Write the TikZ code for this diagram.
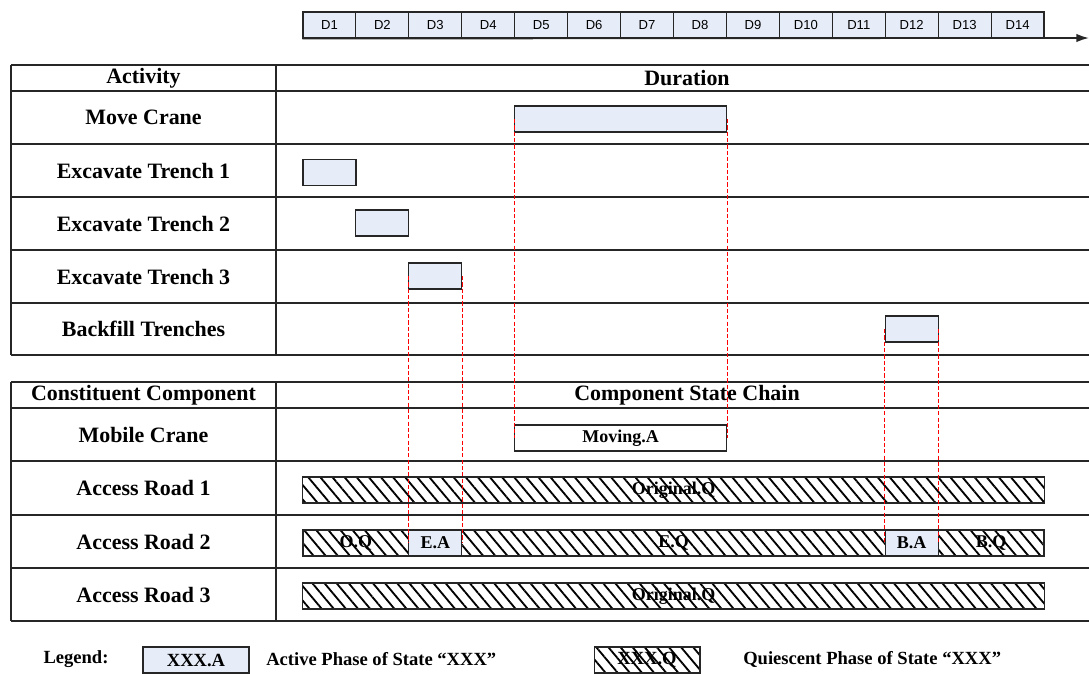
\documentclass[tikz,border=0pt]{standalone}
\usepackage{fontspec}
\setmainfont{Liberation Serif}
\newfontfamily\dayfont{Liberation Sans}
\usetikzlibrary{patterns.meta,arrows.meta}
\definecolor{ActiveFill}{HTML}{E7EDF8}
\definecolor{GridLine}{HTML}{262626}
\definecolor{LinkRed}{HTML}{FF0000}

\begin{document}
\begin{tikzpicture}[
  x=0.025cm, y=-0.025cm,
  daycell/.style={rectangle, draw=GridLine, thick, fill=ActiveFill, minimum width=1.3232cm, minimum height=0.65cm, inner sep=0pt, font=\dayfont\fontsize{9.3}{11}\selectfont},
  rowlabel/.style={inner sep=0pt, font=\bfseries\fontsize{15.6}{18}\selectfont},
  activebar/.style={rectangle, draw=GridLine, thick, fill=ActiveFill, minimum width=#1*1.3232cm, minimum height=0.65cm, inner sep=0pt, font=\bfseries\fontsize{12.8}{15}\selectfont},
  statebar/.style={activebar=#1, fill=white},
  quietbar/.style={rectangle, draw=GridLine, thick, pattern={Lines[angle=-50, distance=6.6pt, line width=1.3pt]}, minimum width=#1*1.3232cm, minimum height=0.65cm, inner sep=0pt, font=\bfseries\fontsize{12.8}{15}\selectfont},
  legendtext/.style={inner sep=0pt, font=\bfseries\fontsize{13.2}{15}\selectfont},
  gridline/.style={draw=GridLine, line width=1pt},
  link/.style={draw=LinkRed, line width=0.6pt, dash pattern=on 3pt off 1.5pt}
]
\useasboundingbox (0,0) rectangle (1089,673);

% time axis
\foreach \d in {1,...,14}
  \node[daycell] (d\d) at ({303+(\d-0.5)*52.93},25) {D\d};
\coordinate (axisend) at (1089,38);
\draw[gridline, line width=1.2pt, -{Latex[length=9pt, width=6pt]}] (d1.south west) -- (axisend);

% activity table
\foreach \y in {65,91,144,197,250,303,355}
  \draw[gridline] (11,\y) -- (1089,\y);
\draw[gridline] (11,65) -- (11,355);
\draw[gridline] (276,65) -- (276,355);

\node[rowlabel] (activity) at (143.5,78) {Activity};
\node[rowlabel] (duration) at (687,78) {Duration};
\node[rowlabel] (movecrane) at (143.5,117.5) {Move Crane};
\node[rowlabel] (trench1) at (143.5,170.5) {Excavate Trench 1};
\node[rowlabel] (trench2) at (143.5,223.5) {Excavate Trench 2};
\node[rowlabel] (trench3) at (143.5,276.5) {Excavate Trench 3};
\node[rowlabel] (backfill) at (143.5,329) {Backfill Trenches};

\node[activebar=4] (mc) at (620.6,119) {};
\node[activebar=1] (et1) at (329.5,172.5) {};
\node[activebar=1] (et2) at (382.4,223) {};
\node[activebar=1] (et3) at (435.3,276) {};
\node[activebar=1] (bf) at (911.7,329) {};

% component table
\foreach \y in {382,408,461,515,568,621}
  \draw[gridline] (11,\y) -- (1089,\y);
\draw[gridline] (11,382) -- (11,621);
\draw[gridline] (276,382) -- (276,621);

\node[rowlabel] (component) at (143.5,395) {Constituent Component};
\node[rowlabel] (statechain) at (687,395) {Component State Chain};
\node[rowlabel] (crane) at (143.5,434.5) {Mobile Crane};
\node[rowlabel] (road1) at (143.5,488) {Access Road 1};
\node[rowlabel] (road2) at (143.5,541.5) {Access Road 2};
\node[rowlabel] (road3) at (143.5,594.5) {Access Road 3};

\node[statebar=4] (moving) at (620.6,438) {Moving.A};
\node[quietbar=14] (orig1) at (673.5,490) {Original.Q};
\node[quietbar=2] (oq) at (355.9,543) {O.Q};
\node[activebar=1] (ea) at (435.3,543) {E.A};
\node[quietbar=8] (eq) at (673.5,543) {E.Q};
\node[activebar=1] (ba) at (911.7,543) {B.A};
\node[quietbar=2] (bq) at (991.1,543) {B.Q};
\node[quietbar=14] (orig3) at (673.5,596) {Original.Q};

% links between activities and states
\draw[link] (mc.west) -- (moving.west);
\draw[link] (mc.east) -- (moving.east);
\draw[link] (et3.west) -- (ea.west);
\draw[link] (et3.east) -- (ea.east);
\draw[link] (bf.west) -- (ba.west);
\draw[link] (bf.east) -- (ba.east);

% legend
\node[legendtext] (legend) at (76,659) {Legend:};
\node[activebar=2, font=\bfseries\fontsize{13.2}{15}\selectfont] (legactive) at (196,660) {XXX.A};
\node[legendtext, anchor=west] (legactivetext) at (266,659) {Active Phase of State “XXX”};
\node[quietbar=2, font=\bfseries\fontsize{13.2}{15}\selectfont] (legquiet) at (647,660) {XXX.Q};
\node[legendtext, anchor=west] (legquiettext) at (743,659) {Quiescent Phase of State “XXX”};
\end{tikzpicture}
\end{document}
